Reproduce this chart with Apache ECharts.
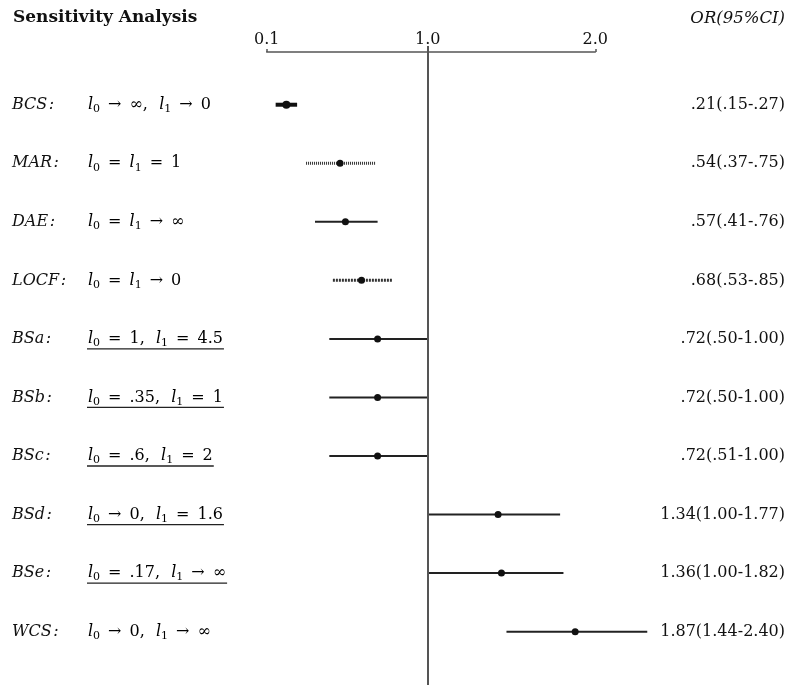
<!DOCTYPE html>
<html><head><meta charset="utf-8">
<script src="https://cdn.jsdelivr.net/npm/echarts@6/dist/echarts.min.js"></script>
<style>html,body{margin:0;padding:0;background:#fff}#c{width:808px;height:685px}</style>
</head><body><div id="c"></div>
<script>
// ---- data ----
const methods = ['BCS:', 'MAR:', 'DAE:', 'LOCF:', 'BSa:', 'BSb:', 'BSc:', 'BSd:', 'BSe:', 'WCS:'];
const formulas = ['l_0 → ∞,  l_1 → 0', 'l_0 = l_1 = 1', 'l_0 = l_1 → ∞', 'l_0 = l_1 → 0',
  'l_0 = 1,  l_1 = 4.5', 'l_0 = .35,  l_1 = 1', 'l_0 = .6,  l_1 = 2', 'l_0 → 0,  l_1 = 1.6',
  'l_0 = .17,  l_1 → ∞', 'l_0 → 0,  l_1 → ∞'];
const orPoint = [0.21, 0.51, 0.54, 0.63, 0.72, 0.72, 0.72, 1.42, 1.44, 1.88];
const ciLow   = [0.15, 0.32, 0.37, 0.47, 0.45, 0.45, 0.45, 1.00, 1.00, 1.47];
const ciHigh  = [0.27, 0.71, 0.72, 0.80, 1.00, 1.00, 1.00, 1.79, 1.81, 2.31];
const orText = ['.21(.15-.27)', '.54(.37-.75)', '.57(.41-.76)', '.68(.53-.85)', '.72(.50-1.00)',
  '.72(.50-1.00)', '.72(.51-1.00)', '1.34(1.00-1.77)', '1.36(1.00-1.82)', '1.87(1.44-2.40)'];
const underlined = [false, false, false, false, true, true, true, true, true, false];
const tickValues = [0.1, 1.0, 2.0];
const tickLabels = ['0.1', '1.0', '2.0'];
const titleText = 'Sensitivity Analysis';
const headerText = 'OR(95%CI)';

// ---- styles ----
const FONT = 'DejaVu Serif';
const FS = 16;
const rowStyles = [
  {width: 4, dash: null, color: '#111'},
  {width: 3, dash: [1, 1], color: '#333'},
  {width: 2, dash: null, color: '#222'},
  {width: 3, dash: [2, 1], color: '#333'},
  {width: 2, dash: null, color: '#222'},
  {width: 2, dash: null, color: '#222'},
  {width: 2, dash: null, color: '#222'},
  {width: 2, dash: null, color: '#222'},
  {width: 2, dash: null, color: '#222'},
  {width: 2, dash: null, color: '#222'}
];

// axis scale of the original plot: the part above 1 is slightly compressed
const UPPER = 0.937;
function sx(v) { return v <= 1 ? v : 1 + (v - 1) * UPPER; }

// math-like spacing around relations
function mathSpace(f) {
  return f.replace(/ (→|=) /g, '\u2002$1\u2002').replace(/,  /g, ',\u2002\u2009');
}
const ctx = document.createElement('canvas').getContext('2d');
function tw(t, font) { ctx.font = font; return ctx.measureText(t).width; }
function splitFormula(f) { return mathSpace(f).split(/(l_\d)/).filter(p => p); }
function richFormula(f) {
  return splitFormula(f).map(p => /^l_\d$/.test(p) ? '{it|l}{sub|' + p[2] + '}' : '{rm|' + p + '}').join('');
}
function formulaWidth(f) {
  return splitFormula(f).reduce((s, p) => s + (/^l_\d$/.test(p)
    ? tw('l', 'italic ' + FS + 'px "' + FONT + '"') + tw(p[2], '11px "' + FONT + '"')
    : tw(p, FS + 'px "' + FONT + '"')), 0);
}

const rows = methods.map((m, i) => [i, sx(ciLow[i]), sx(orPoint[i]), sx(ciHigh[i])]);

const chart = echarts.init(document.getElementById('c'), null, {renderer: 'canvas'});
chart.setOption({
  animation: false,
  backgroundColor: '#fff',
  title: {
    text: titleText, left: 13, top: 9, padding: 0,
    textStyle: {fontFamily: FONT, fontSize: 17, fontWeight: 'bold', color: '#111'}
  },
  graphic: [{
    type: 'text', right: 23, top: 10,
    style: {text: headerText, font: 'italic 16.5px "' + FONT + '"', fill: '#111'}
  }],
  grid: {left: 266.7, right: 212.7, top: 46, bottom: 0},
  xAxis: {
    type: 'value', position: 'top', offset: -6,
    min: sx(tickValues[0]), max: sx(tickValues[tickValues.length - 1]),
    axisLine: {show: true, onZero: false, lineStyle: {color: '#555', width: 1.5}},
    axisTick: {show: true, length: 3, customValues: tickValues.map(sx), lineStyle: {color: '#555', width: 1.5}},
    axisLabel: {
      show: true, margin: 4, customValues: tickValues.map(sx),
      fontFamily: FONT, fontSize: 16, color: '#111',
      formatter: v => { const k = tickValues.map(sx).findIndex(t => Math.abs(t - v) < 1e-6); return k >= 0 ? tickLabels[k] : ''; }
    },
    splitLine: {show: false}
  },
  yAxis: {type: 'value', inverse: true, min: -1.003, max: 9.911, show: false},
  series: [{
    type: 'custom',
    data: rows,
    encode: {x: [1, 2, 3], y: 0},
    renderItem: function (params, api) {
      const i = api.value(0);
      const a = api.coord([api.value(1), i]);
      const p = api.coord([api.value(2), i]);
      const b = api.coord([api.value(3), i]);
      const st = rowStyles[i];
      return {type: 'group', children: [
        {type: 'line', shape: {x1: a[0], y1: a[1], x2: b[0], y2: b[1]},
          style: {stroke: st.color, lineWidth: st.width, lineDash: st.dash}},
        {type: 'circle', shape: {cx: p[0], cy: p[1], r: i === 0 ? 4 : 3.5}, style: {fill: '#111'}}
      ]};
    },
    markLine: {
      silent: true, symbol: 'none', label: {show: false},
      lineStyle: {color: '#555', width: 2, type: 'solid'},
      data: [{xAxis: sx(1)}]
    }
  }, {
    type: 'custom',
    data: methods.map((m, i) => [sx(tickValues[0]), i]),
    encode: {x: 0, y: 1},
    renderItem: function (params, api) {
      const i = api.value(1);
      const y = api.coord([api.value(0), i])[1];
      const children = [
        {type: 'text', x: 12, y: y, style: {text: methods[i].replace(':', '\u200A:'), font: 'italic ' + FS + 'px "' + FONT + '"',
          fill: '#111', verticalAlign: 'middle', align: 'left'}},
        {type: 'text', x: 88, y: y, style: {text: richFormula(formulas[i]), verticalAlign: 'middle', align: 'left',
          rich: {
            it: {fontFamily: FONT, fontStyle: 'italic', fontSize: FS, color: '#111'},
            rm: {fontFamily: FONT, fontSize: FS, color: '#111'},
            sub: {fontFamily: FONT, fontSize: 11, color: '#111', padding: [9, 0, 0, 0]}
          }}},
        {type: 'text', x: 785, y: y, style: {text: orText[i], font: FS + 'px "' + FONT + '"',
          fill: '#111', verticalAlign: 'middle', align: 'right'}}
      ];
      if (underlined[i]) {
        const w = formulaWidth(formulas[i]);
        children.push({type: 'line', shape: {x1: 87, y1: y + 10, x2: 88 + w + 1, y2: y + 10},
          style: {stroke: '#222', lineWidth: 1.3}});
      }
      return {type: 'group', children: children};
    }
  }]
});
</script>
</body></html>
